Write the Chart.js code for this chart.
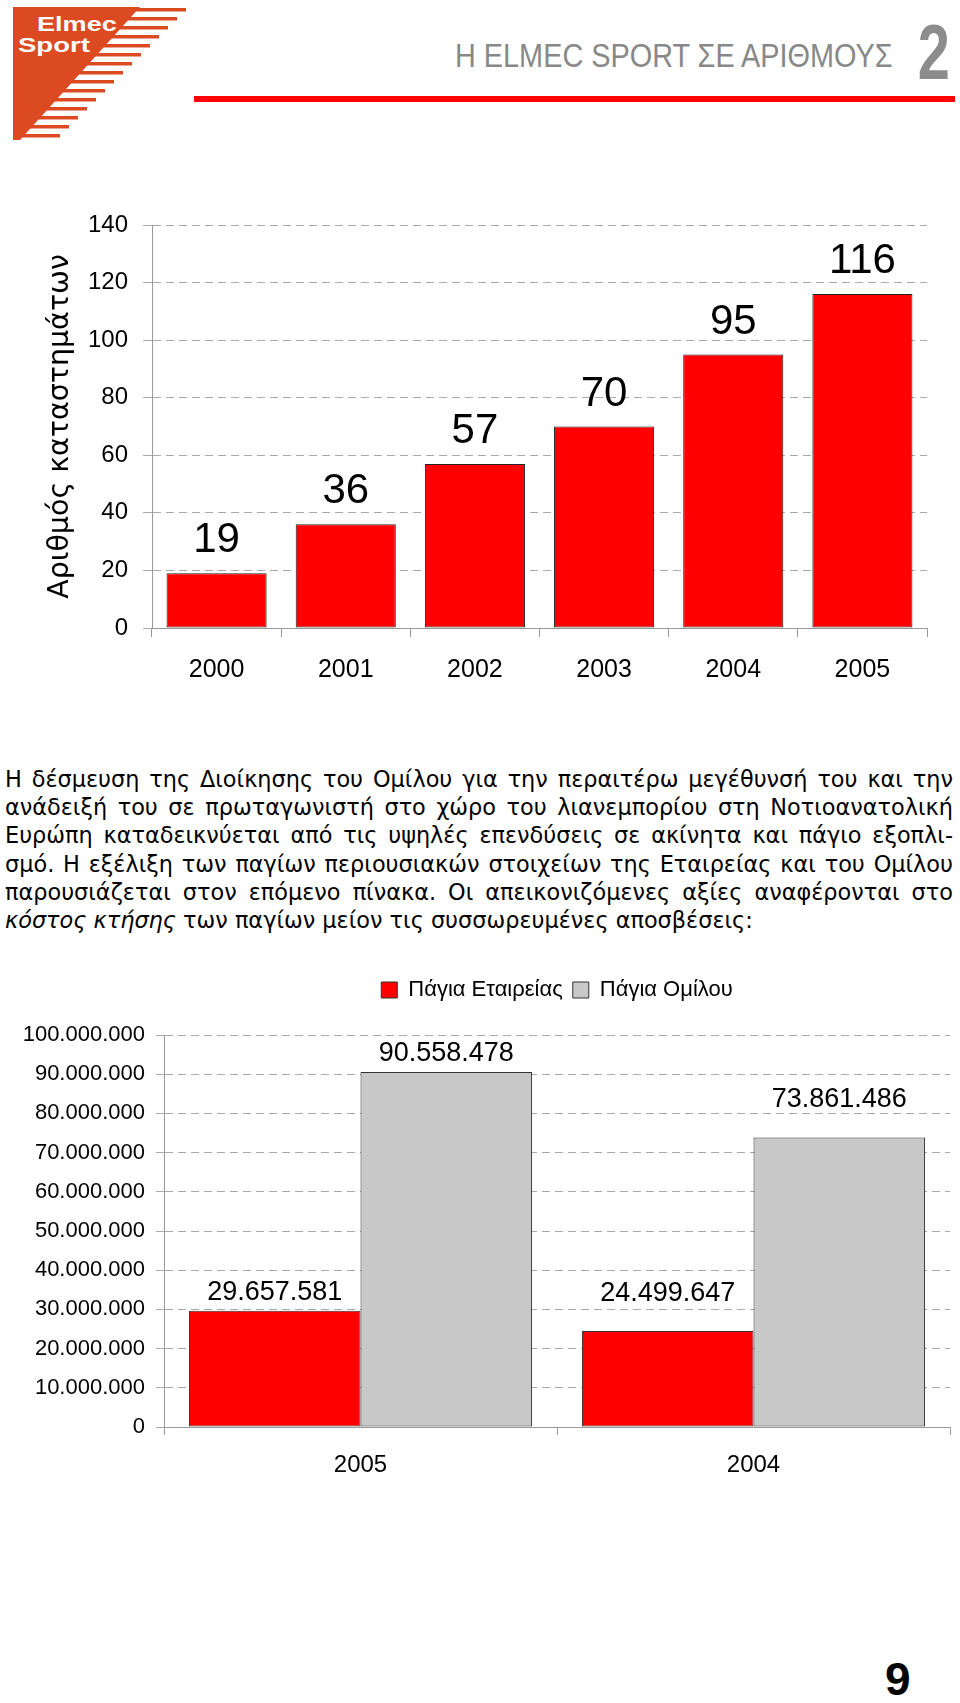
<!DOCTYPE html>
<html>
<head>
<meta charset="utf-8">
<script src="https://cdn.jsdelivr.net/npm/chart.js@4.4.0/dist/chart.umd.min.js"></script>
<style>
body { margin: 0; background: #fff; }
#page { position: relative; width: 960px; height: 1703px; overflow: hidden; font-family: 'Liberation Sans', Arial, sans-serif; color: #000; }
#logo { position: absolute; left: 0; top: 0; }
.logotext { position: absolute; color: #fff; font-weight: bold; font-size: 21px; line-height: 21px; transform-origin: left top; white-space: nowrap; }
#title { position: absolute; left: 455px; top: 39px; font-size: 33px; line-height: 33px; color: #888; white-space: nowrap; transform: scaleX(0.874); transform-origin: left top; }
#chapter { position: absolute; right: 10px; top: 14px; font-weight: bold; font-size: 77px; line-height: 77px; color: #8c8c8c; transform: scaleX(0.75); transform-origin: right top; }
#redline { position: absolute; left: 194px; top: 96px; width: 761px; height: 6px; background: #f00; }
canvas { position: absolute; left: 0; }
#storesChart { top: 190px; }
#assetsChart { top: 960px; }
#text { position: absolute; left: 5px; top: 765px; width: 948px; font-family: 'DejaVu Sans', sans-serif; font-size: 22.4px; line-height: 28.2px; }
#text div { text-align: justify; text-align-last: justify; white-space: nowrap; }
#text div.last { text-align-last: left; }
#pageno { position: absolute; left: 885px; top: 1656px; font-weight: bold; font-size: 46px; line-height: 46px; }
</style>
</head>
<body>
<div id="page">
  <svg id="logo" width="200" height="150">
    <polygon points="13,7 140,7 20,140 13,140" fill="#dc4a22"/>
    <g id="stripes" fill="#dc4a22"></g>
  </svg>
  <div class="logotext" style="left:37px; top:13px; transform:scaleX(1.29)">Elmec</div>
  <div class="logotext" style="left:18px; top:34px; transform:scaleX(1.31)">Sport</div>
  <div id="title">Η ELMEC SPORT ΣΕ ΑΡΙΘΜΟΥΣ</div>
  <div id="chapter">2</div>
  <div id="redline"></div>

  <canvas id="storesChart" width="960" height="500"></canvas>

  <div id="text">
    <div>Η δέσμευση της Διοίκησης του Ομίλου για την περαιτέρω μεγέθυνσή του και την</div>
    <div>ανάδειξή του σε πρωταγωνιστή στο χώρο του λιανεμπορίου στη Νοτιοανατολική</div>
    <div>Ευρώπη καταδεικνύεται από τις υψηλές επενδύσεις σε ακίνητα και πάγιο εξοπλι-</div>
    <div>σμό. Η εξέλιξη των παγίων περιουσιακών στοιχείων της Εταιρείας και του Ομίλου</div>
    <div>παρουσιάζεται στον επόμενο πίνακα. Οι απεικονιζόμενες αξίες αναφέρονται στο</div>
    <div class="last"><i>κόστος κτήσης</i> των παγίων μείον τις συσσωρευμένες αποσβέσεις:</div>
  </div>

  <canvas id="assetsChart" width="960" height="540"></canvas>

  <div id="pageno">9</div>
</div>

<script>
// chart 1 - number of stores
const years = ['2000', '2001', '2002', '2003', '2004', '2005'];
const storeCounts = [19, 36, 57, 70, 95, 116];
const storeAxisTitle = 'Αριθμός καταστημάτων';

// chart 2 - fixed assets
const assetYears = ['2005', '2004'];
const seriesNames = ['Πάγια Εταιρείας', 'Πάγια Ομίλου'];
const companyAssets = [29657581, 24499647];
const groupAssets = [90558478, 73861486];

const FONT = "'Liberation Sans', Arial, sans-serif";
Chart.defaults.font.family = FONT;
Chart.defaults.color = '#000';

// logo stripes
var stripes = document.getElementById('stripes');
for (var i = 0; i < 15; i++) {
    var y = 8 + i * 9;
    var inner = 140 - (y - 7) * 0.9;
    var outer = 186 - (y - 8);
    var r = document.createElementNS('http://www.w3.org/2000/svg', 'rect');
    r.setAttribute('x', inner - 4);
    r.setAttribute('y', y);
    r.setAttribute('width', outer - inner + 4);
    r.setAttribute('height', 3.5);
    stripes.appendChild(r);
}

function dots(v) {
    return String(v).replace(/\B(?=(\d{3})+(?!\d))/g, '.');
}

// draws the value above every bar
function valueLabels(font, gaps, format) {
    return {
        id: 'valueLabels',
        afterDatasetsDraw(chart) {
            const ctx = chart.ctx;
            ctx.save();
            ctx.font = font;
            ctx.fillStyle = '#000';
            ctx.textAlign = 'center';
            ctx.textBaseline = 'alphabetic';
            chart.data.datasets.forEach((ds, di) => {
                chart.getDatasetMeta(di).data.forEach((bar, i) => {
                    ctx.fillText(format(ds.data[i]), bar.x, bar.y - gaps[i]);
                });
            });
            ctx.restore();
        }
    };
}

// extra room under the legend
const legendGap = {
    id: 'legendGap',
    beforeInit(chart) {
        const fitValue = chart.legend.fit;
        chart.legend.fit = function fit() {
            fitValue.bind(chart.legend)();
            this.height += 24;
        };
    }
};

new Chart(document.getElementById('storesChart'), {
    type: 'bar',
    data: {
        labels: years,
        datasets: [{
            data: storeCounts,
            backgroundColor: '#ff0000',
            borderColor: '#222',
            borderWidth: 1,
            borderSkipped: false,
            categoryPercentage: 0.775,
            barPercentage: 1
        }]
    },
    options: {
        responsive: false,
        animation: false,
        events: [],
        layout: { padding: { top: 35, right: 33, bottom: 5, left: 0 } },
        plugins: {
            legend: { display: false },
            tooltip: { enabled: false }
        },
        scales: {
            x: {
                grid: { drawOnChartArea: false, tickLength: 9, color: '#999', tickColor: '#999' },
                border: { color: '#999' },
                ticks: { font: { size: 25 }, padding: 18, maxRotation: 0 },
                afterFit: s => { s.height = 57; }
            },
            y: {
                min: 0,
                max: 140,
                ticks: { stepSize: 20, font: { size: 24 }, padding: 15 },
                grid: { color: '#aaa', tickLength: 9, tickColor: '#aaa' },
                border: { color: '#999', dash: [8, 5] },
                title: {
                    display: true,
                    text: storeAxisTitle,
                    font: { size: 28.5, family: "'DejaVu Sans', sans-serif" },
                    padding: { top: 43, bottom: 0 }
                },
                afterFit: s => { s.width = 152; }
            }
        }
    },
    plugins: [valueLabels('42px ' + FONT, [21, 21, 21, 21, 21, 21], v => v)]
});

new Chart(document.getElementById('assetsChart'), {
    type: 'bar',
    data: {
        labels: assetYears,
        datasets: [{
            label: seriesNames[0],
            data: companyAssets,
            backgroundColor: '#ff0000',
            borderColor: '#333',
            borderWidth: 1,
            borderSkipped: false,
            categoryPercentage: 0.873,
            barPercentage: 1
        }, {
            label: seriesNames[1],
            data: groupAssets,
            backgroundColor: '#c8c8c8',
            borderColor: '#333',
            borderWidth: 1,
            borderSkipped: false,
            categoryPercentage: 0.873,
            barPercentage: 1
        }]
    },
    options: {
        responsive: false,
        animation: false,
        events: [],
        layout: { padding: { top: 9, right: 10, bottom: 20, left: 0 } },
        plugins: {
            legend: {
                position: 'top',
                fullSize: false,
                labels: { boxWidth: 16, boxHeight: 16, padding: 10, font: { size: 22 } }
            },
            tooltip: { enabled: false }
        },
        scales: {
            x: {
                grid: { drawOnChartArea: false, tickLength: 8, color: '#999', tickColor: '#999' },
                border: { color: '#999' },
                ticks: { font: { size: 24 }, padding: 16, maxRotation: 0 },
                afterFit: s => { s.height = 53; }
            },
            y: {
                min: 0,
                max: 100000000,
                ticks: { stepSize: 10000000, font: { size: 22 }, padding: 11, callback: v => dots(v) },
                grid: { color: '#aaa', tickLength: 8, tickColor: '#aaa' },
                border: { color: '#999', dash: [8, 5] },
                afterFit: s => { s.width = 164; }
            }
        }
    },
    plugins: [legendGap, valueLabels('27px ' + FONT, [11, 30], dots)]
});
</script>
</body>
</html>
